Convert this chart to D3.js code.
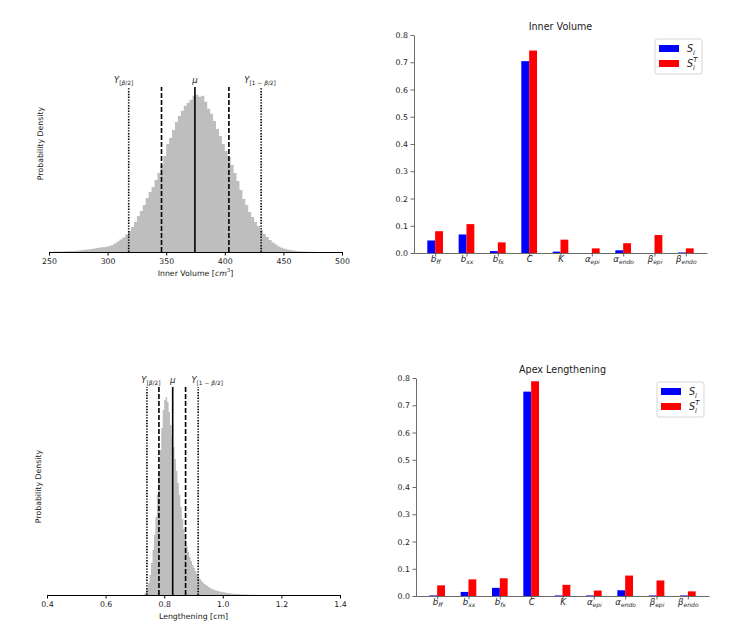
<!DOCTYPE html>
<html>
<head>
<meta charset="utf-8">
<script src="https://cdn.jsdelivr.net/npm/d3@7"></script>
<style>
  body { margin: 0; background: #fff; }
  svg, svg text { font-family: "DejaVu Sans", sans-serif; }
  .tick text { fill: #222; font-size: 7.8px; }
  .axis-label { fill: #222; font-size: 7.8px; }
  .chart-title { fill: #222; font-size: 9.6px; }
</style>
</head>
<body>
<svg id="fig" width="747" height="628"></svg>
<script>
// ---- data ----

// parameter names: base symbol + subscript
const paramBase = ['b', 'b', 'b', 'C', 'K', 'α', 'α', 'β', 'β'];
const paramSub  = ['ff', 'xx', 'fx', '', '', 'epi', 'endo', 'epi', 'endo'];

// Sobol indices, inner volume
const volFirst = [0.046, 0.068, 0.007, 0.704, 0.005, 0.000, 0.010, 0.000, 0.002];
const volTotal = [0.080, 0.106, 0.039, 0.743, 0.049, 0.017, 0.036, 0.066, 0.017];

// Sobol indices, apex lengthening
const apexFirst = [0.002, 0.015, 0.030, 0.750, 0.002, 0.002, 0.021, 0.002, 0.002];
const apexTotal = [0.039, 0.061, 0.065, 0.788, 0.041, 0.020, 0.075, 0.057, 0.017];

const barTicks = [0, 0.1, 0.2, 0.3, 0.4, 0.5, 0.6, 0.7, 0.8];

// inner volume histogram (bins of 2.5 cm^3 from 250), relative density
const volBinStart = 250, volBinWidth = 2.5;
const volCounts = [
  0.3, 0.3, 0.4, 0.5, 0.6, 0.7, 0.8, 1.0, 1.1, 1.3,
  1.6, 1.9, 2.2, 2.6, 3.0, 3.4, 3.9, 4.4, 4.8, 5.2,
  5.8, 6.8, 8.5, 10.5, 12.5, 14.5, 17.5, 21, 25, 30,
  36, 41, 47, 54, 60, 65, 72, 79, 87, 96,
  108, 114, 122, 130, 136, 141, 146, 149, 152, 156,
  157, 155, 156, 150, 143, 138, 131, 123, 116, 108,
  101, 95, 87, 79, 71, 62, 53, 47, 40, 35,
  30, 26, 22, 18, 15, 12, 9.5, 7.5, 5.5, 4.3,
  3.3, 2.5, 1.9, 1.4, 1.0, 0.8, 0.6, 0.4, 0.3, 0.2,
  0.15, 0.1
];
const volMean = 374.5;
const volSigma = [346, 403.5];
const volCI = [318, 431];
const volTicks = [250, 300, 350, 400, 450, 500];

// apex lengthening histogram (bins of 0.005 cm from 0.73)
const apexBinStart = 0.73, apexBinWidth = 0.005;
const apexCounts = [
  1, 3, 6, 12, 20, 32, 45, 60, 78, 100,
  122, 145, 167, 185, 195, 198, 193, 183, 170, 158,
  148, 136, 124, 112, 100, 88, 76, 66, 57, 49,
  43, 38, 34, 30, 27, 24, 21, 18, 16, 14,
  12.5, 11, 10, 9, 8, 7, 6.3, 5.7, 5.1, 4.6,
  4.1, 3.7, 3.3, 3.0, 2.7, 2.4, 2.1, 1.9, 1.7, 1.5,
  1.3, 1.2, 1.1, 1.0, 0.9, 0.8, 0.7, 0.6, 0.5, 0.5,
  0.4, 0.4, 0.3, 0.3, 0.3, 0.2, 0.2, 0.2, 0.1, 0.1
];
const apexMean = 0.829;
const apexSigma = [0.782, 0.873];
const apexCI = [0.741, 0.916];
const apexTicks = [0.4, 0.6, 0.8, 1.0, 1.2, 1.4];

// ---- helpers ----

const svg = d3.select('#fig');

// write a mathtext-like label into a <text> using tspans
function addMath(text, parts, size) {
  let cur = 0;
  parts.forEach(p => {
    const pos = p.pos || 'base';
    const shift = pos === 'sub' ? size * 0.3 : pos === 'sup' ? -size * 0.5 : 0;
    const ts = text.append('tspan')
      .attr('dy', shift - cur)
      .style('font-size', (pos === 'base' ? size : size * 0.7) + 'px')
      .style('font-style', p.it ? 'italic' : 'normal')
      .text(p.t);
    if (p.dx) ts.attr('dx', p.dx);
    cur = shift;
  });
}

function cleanAxis(g, color, width) {
  g.attr('font-family', null).attr('font-size', null);
  g.select('.domain').attr('stroke', color).attr('stroke-width', width);
  g.selectAll('.tick line').attr('stroke', color).attr('stroke-width', width);
}

function drawHistogram(cfg) {
  const x = d3.scaleLinear().domain(cfg.xDomain).range([cfg.left, cfg.right]);
  const maxC = d3.max(cfg.counts);
  const y = d3.scaleLinear().domain([0, maxC * 1.05]).range([cfg.base, cfg.top]);

  const pts = cfg.counts.map((c, i) => ({ x: cfg.binStart + i * cfg.binWidth, c: c }));
  pts.push({ x: cfg.binStart + cfg.counts.length * cfg.binWidth, c: 0 });

  const area = d3.area()
      .x(d => x(d.x))
      .y0(y(0))
      .y1(d => y(d.c))
      .curve(d3.curveStepAfter);

  svg.append('path')
      .datum(pts)
      .attr('d', area)
      .attr('fill', '#bebebe');

  // mean, +-sigma, interval lines
  const lines = [
    { v: cfg.ci[0], dash: '1.4,1.4' },
    { v: cfg.sigma[0], dash: '5,2' },
    { v: cfg.mean, dash: null },
    { v: cfg.sigma[1], dash: '5,2' },
    { v: cfg.ci[1], dash: '1.4,1.4' }
  ];
  svg.selectAll(null)
      .data(lines)
      .join('line')
      .attr('x1', d => x(d.v))
      .attr('x2', d => x(d.v))
      .attr('y1', y(0))
      .attr('y2', y(maxC * 1.05))
      .attr('stroke', '#000')
      .attr('stroke-width', 1.6)
      .attr('stroke-dasharray', d => d.dash);

  // labels over the lines
  const labY = y(maxC * 1.05) - 4.5;
  const lab1 = svg.append('text').attr('x', x(cfg.ci[0]) + cfg.labelShift[0]).attr('y', labY)
      .attr('text-anchor', 'middle').attr('fill', '#222');
  addMath(lab1, [
    { t: 'Y', it: true },
    { t: '[', pos: 'sub' }, { t: 'β', it: true, pos: 'sub' }, { t: '/2]', pos: 'sub' }
  ], 8.4);
  const lab2 = svg.append('text').attr('x', x(cfg.mean) + cfg.labelShift[1]).attr('y', labY)
      .attr('text-anchor', 'middle').attr('fill', '#222');
  addMath(lab2, [{ t: 'μ', it: true }], 8.6);
  const lab3 = svg.append('text').attr('x', x(cfg.ci[1]) + cfg.labelShift[2]).attr('y', labY)
      .attr('text-anchor', 'middle').attr('fill', '#222');
  addMath(lab3, [
    { t: 'Y', it: true },
    { t: '[1 − ', pos: 'sub' }, { t: 'β', it: true, pos: 'sub' }, { t: '/2]', pos: 'sub' }
  ], 8.4);

  // x axis
  const xAxis = d3.axisBottom(x)
      .tickValues(cfg.ticks)
      .tickFormat(cfg.format)
      .tickSize(3.5)
      .tickSizeOuter(0)
      .tickPadding(2.5);
  const g = svg.append('g')
      .attr('transform', `translate(0,${cfg.base})`)
      .call(xAxis);
  cleanAxis(g, '#000', 1);

  // axis labels
  const xl = svg.append('text')
      .attr('class', 'axis-label')
      .attr('x', (cfg.left + cfg.right) / 2)
      .attr('y', cfg.base + 24)
      .attr('text-anchor', 'middle');
  addMath(xl, cfg.xLabel, 7.8);

  svg.append('text')
      .attr('class', 'axis-label')
      .attr('transform', `translate(${cfg.left - 6},${cfg.labelMid}) rotate(-90)`)
      .attr('text-anchor', 'middle')
      .text('Probability Density');
}

function drawBars(cfg) {
  const x = d3.scaleLinear().domain([-0.675, 8.675]).range([cfg.left, cfg.right]);
  const y = d3.scaleLinear().domain([0, 0.8]).range([cfg.base, cfg.top]);
  const w = 0.25;

  const rows = cfg.first.map((v, i) => ({ i: i, s: v, st: cfg.total[i] }));

  svg.selectAll(null)
      .data(rows)
      .join('rect')
      .attr('x', d => x(d.i - w))
      .attr('width', x(w) - x(0))
      .attr('y', d => y(d.s))
      .attr('height', d => y(0) - y(d.s))
      .attr('fill', '#0000ff');

  svg.selectAll(null)
      .data(rows)
      .join('rect')
      .attr('x', d => x(d.i))
      .attr('width', x(w) - x(0))
      .attr('y', d => y(d.st))
      .attr('height', d => y(0) - y(d.st))
      .attr('fill', '#ff0000');

  // y axis
  const yAxis = d3.axisLeft(y)
      .tickValues(barTicks)
      .tickFormat(d3.format('.1f'))
      .tickSize(3.5)
      .tickSizeOuter(0)
      .tickPadding(2.5);
  const gy = svg.append('g')
      .attr('transform', `translate(${cfg.left},0)`)
      .call(yAxis);
  cleanAxis(gy, '#444', 0.8);

  // x axis with parameter names
  const xAxis = d3.axisBottom(x)
      .tickValues(d3.range(paramBase.length))
      .tickFormat(() => '')
      .tickSize(3.5)
      .tickSizeOuter(0)
      .tickPadding(5);
  const gx = svg.append('g')
      .attr('transform', `translate(0,${cfg.base})`)
      .call(xAxis);
  cleanAxis(gx, '#444', 0.8);
  gx.selectAll('.tick text').each(function(d) {
    const parts = [{ t: paramBase[d], it: true }];
    if (paramSub[d]) parts.push({ t: paramSub[d], it: true, pos: 'sub' });
    addMath(d3.select(this), parts, 8.6);
  });

  // title
  svg.append('text')
      .attr('class', 'chart-title')
      .attr('x', (cfg.left + cfg.right) / 2)
      .attr('y', cfg.top - 5)
      .attr('text-anchor', 'middle')
      .text(cfg.title);

  // legend
  const lg = svg.append('g').attr('transform', `translate(${cfg.legendX},${cfg.legendY})`);
  lg.append('rect')
      .attr('width', 47).attr('height', 35)
      .attr('rx', 2)
      .attr('fill', '#fff')
      .attr('stroke', '#ccc')
      .attr('stroke-width', 0.8);
  lg.append('rect').attr('x', 4).attr('y', 6).attr('width', 20).attr('height', 7).attr('fill', '#0000ff');
  lg.append('rect').attr('x', 4).attr('y', 21).attr('width', 20).attr('height', 7).attr('fill', '#ff0000');
  const t1 = lg.append('text').attr('x', 32).attr('y', 13).attr('fill', '#222');
  addMath(t1, [{ t: 'S', it: true }, { t: 'i', it: true, pos: 'sub' }], 9.6);
  const t2 = lg.append('text').attr('x', 32).attr('y', 28).attr('fill', '#222');
  addMath(t2, [{ t: 'S', it: true }, { t: 'i', it: true, pos: 'sub' },
               { t: 'T', it: true, pos: 'sup', dx: -1.8 }], 9.6);
}

// ---- panels ----

drawHistogram({
  left: 49, right: 342, base: 252, top: 87, labelMid: 143.5,
  xDomain: [250, 500], ticks: volTicks, format: d3.format('d'),
  binStart: volBinStart, binWidth: volBinWidth, counts: volCounts,
  mean: volMean, sigma: volSigma, ci: volCI,
  labelShift: [-5, 0, -1],
  xLabel: [{ t: 'Inner Volume [' }, { t: 'cm', it: true }, { t: '3', pos: 'sup' }, { t: ']', pos: 'base' }]
});

drawHistogram({
  left: 47, right: 340, base: 595, top: 387, labelMid: 486.5,
  xDomain: [0.4, 1.4], ticks: apexTicks, format: d3.format('.1f'),
  binStart: apexBinStart, binWidth: apexBinWidth, counts: apexCounts,
  mean: apexMean, sigma: apexSigma, ci: apexCI,
  labelShift: [4, 0, 9],
  xLabel: [{ t: 'Lengthening [cm]' }]
});

drawBars({
  left: 414, right: 707, base: 253, top: 35,
  first: volFirst, total: volTotal, title: 'Inner Volume',
  legendX: 655, legendY: 39
});

drawBars({
  left: 416, right: 709, base: 596, top: 378,
  first: apexFirst, total: apexTotal, title: 'Apex Lengthening',
  legendX: 657, legendY: 382
});
</script>
</body>
</html>
